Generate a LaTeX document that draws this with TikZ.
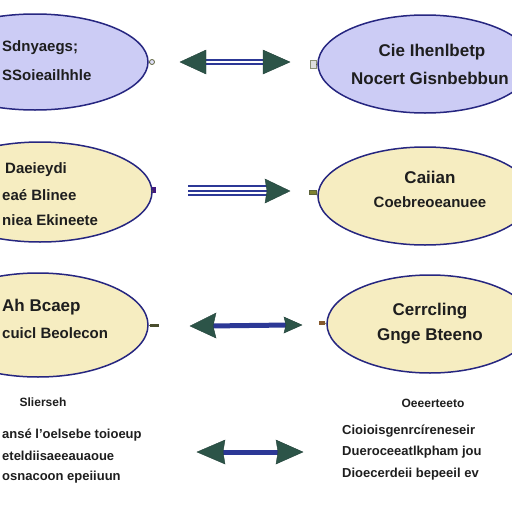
\documentclass[tikz,border=0pt]{standalone}
\usepackage{fontspec}
\setmainfont{Liberation Sans}
\usetikzlibrary{shapes.geometric,calc}
\definecolor{lav}{RGB}{204,204,245}
\definecolor{beige}{RGB}{246,237,193}
\definecolor{navy}{RGB}{38,38,128}
\definecolor{hgreen}{RGB}{44,84,72}
\definecolor{lblue}{RGB}{44,56,150}
\definecolor{olive}{RGB}{92,98,58}
\definecolor{ink}{RGB}{30,30,30}
\begin{document}
\begin{tikzpicture}[x=1pt,y=-1pt,
  oval/.style={ellipse, draw=navy, line width=1.5pt, inner sep=0pt},
  big/.style={font=\fontsize{17}{20}\selectfont\bfseries, text=ink, inner sep=0pt},
  mid/.style={font=\fontsize{15}{18}\selectfont\bfseries, text=ink, inner sep=0pt},
  small/.style={font=\fontsize{13}{15}\selectfont\bfseries, text=ink, inner sep=0pt},
  tiny/.style={font=\fontsize{12}{14}\selectfont\bfseries, text=ink, inner sep=0pt},
  headfill/.style={fill=hgreen, draw=hgreen!80!black, line width=0.4pt},
  shaft/.style={draw=lblue, line width=5pt},
]
\useasboundingbox (0,0) rectangle (512,512);
\clip (0,0) rectangle (512,512);
\fill[white] (0,0) rectangle (512,512);

% ---------- ellipses ----------
\node[oval, fill=lav, minimum width=226pt, minimum height=96pt] (e1) at (35,62) {};
\node[oval, fill=lav, minimum width=214pt, minimum height=98pt] (e2) at (425,64) {};
\node[oval, fill=beige, minimum width=224pt, minimum height=100pt] (e3) at (40,192) {};
\node[oval, fill=beige, minimum width=214pt, minimum height=98pt] (e4) at (425,196) {};
\node[oval, fill=beige, minimum width=220pt, minimum height=104pt] (e5) at (38,325) {};
\node[oval, fill=beige, minimum width=206pt, minimum height=98pt] (e6) at (430,324) {};

% ---------- ellipse texts ----------
\node[mid, anchor=west] (t1a) at (2,48) {Sdnyaegs;};
\node[mid, anchor=west] (t1b) at (2,75) {SSoieailhhle};
\node[big] (t2a) at (432,52) {Cie Ihenlbetp};
\node[big] (t2b) at (430,78) {Nocert Gisnbebbun};
\node[mid, anchor=west] (t3a) at (5,170) {Daeieydi};
\node[mid, anchor=west] (t3b) at (2,195) {eaé Blinee};
\node[mid, anchor=west] (t3c) at (2,220) {niea Ekineete};
\node[big] (t4a) at (430,177) {Caiian};
\node[mid] (t4b) at (430,202) {Coebreoeanuee};
\node[big, anchor=west] (t5a) at (2,307) {Ah Bcaep};
\node[mid, anchor=west] (t5b) at (2,333) {cuicl Beolecon};
\node[big] (t6a) at (430,311) {Cerrcling};
\node[big] (t6b) at (430,336) {Gnge Bteeno};

% ---------- small connectors on ellipses ----------
\node[circle, draw=olive, fill=lav!60, line width=0.8pt, minimum size=5pt, inner sep=0pt] (c1) at (152,62) {};
\node[draw=olive!70, fill=gray!25, line width=0.6pt, minimum width=6pt, minimum height=8pt, inner sep=0pt] (c2) at (313,64) {};
\node[fill=navy!70!violet, minimum width=4pt, minimum height=6pt, inner sep=0pt] (c3) at (154,190) {};
\node[fill=olive!80!yellow, draw=olive, line width=0.4pt, minimum width=7pt, minimum height=4pt, inner sep=0pt] (c4) at (313,192) {};
\node[fill=olive!80!black, minimum width=9pt, minimum height=3pt, inner sep=0pt] (c5) at (154,325) {};
\node[fill=brown!70!black, minimum width=6pt, minimum height=4pt, inner sep=0pt] (c6) at (322,323) {};
\draw[olive, line width=0.6pt] (e1.east) -- (c1.west);
\draw[olive, line width=0.6pt] (c2.east) -- (e2.west);
\draw[olive, line width=0.6pt] (e3.east) -- (c3.west);
\draw[olive, line width=0.6pt] (c4.east) -- (e4.west);
\draw[olive, line width=0.6pt] (e5.east) -- (c5.west);
\draw[olive, line width=0.6pt] (c6.east) -- (e6.west);

% ---------- arrow 1 (double line, two heads) ----------
\coordinate (a1l) at (180,62);
\coordinate (a1r) at (290,62);
\draw[draw=lblue, double=white, double distance=2.4pt, line width=2pt]
  ($(a1l)+(24,0)$) -- ($(a1r)+(-26,0)$);
\path[headfill] (a1l) -- ++(26,-12) -- ++(0,24) -- cycle;
\path[headfill] (a1r) -- ++(-27,-12) -- ++(0,24) -- cycle;

% ---------- arrow 2 (three lines, one head) ----------
\coordinate (a2l) at (188,191);
\coordinate (a2r) at (290,191);
\draw[lblue, line width=1.3pt] ($(a2l)+(0,-5)$) -- ($(a2r)+(-22,-5)$);
\draw[lblue, line width=1.3pt] (a2l) -- ($(a2r)+(-22,0)$);
\draw[lblue, line width=1.3pt] ($(a2l)+(0,4)$) -- ($(a2r)+(-22,4)$);
\path[headfill] (a2r) -- ++(-25,-12) -- ++(2,12) -- ++(-2,12) -- cycle;

% ---------- arrow 3 ----------
\coordinate (a3l) at (190,326);
\coordinate (a3r) at (302,325);
\draw[shaft] ($(a3l)+(20,0)$) -- ($(a3r)+(-14,0)$);
\path[headfill] (a3l) -- ++(26,-13) -- ++(-3,13) -- ++(3,12) -- cycle;
\path[headfill] (a3r) -- ++(-18,-8) -- ++(2,8) -- ++(-2,8) -- cycle;

% ---------- arrow 4 ----------
\coordinate (a4l) at (197,452);
\coordinate (a4r) at (303,452);
\draw[shaft] ($(a4l)+(24,0)$) -- ($(a4r)+(-22,0)$);
\path[headfill] (a4l) -- ++(28,-12) -- ++(-2,12) -- ++(2,12) -- cycle;
\path[headfill] (a4r) -- ++(-27,-12) -- ++(2,12) -- ++(-2,12) -- cycle;

% ---------- bottom texts ----------
\node[tiny] (b1) at (43,402) {Slierseh};
\node[small, anchor=west] (b2) at (2,435) {ansé l'oelsebe toioeup};
\node[small, anchor=west] (b3) at (2,456) {eteldiisaeeauaoue};
\node[small, anchor=west] (b4) at (2,477) {osnacoon epeiiuun};
\node[tiny] (b5) at (433,403) {Oeeerteeto};
\node[small, anchor=west] (b6) at (342,431) {Cioioisgenrcíreneseir};
\node[small, anchor=west] (b7) at (342,452) {Dueroceeatlkpham jou};
\node[small, anchor=west] (b8) at (342,474) {Dioecerdeii bepeeil ev};
\end{tikzpicture}
\end{document}
